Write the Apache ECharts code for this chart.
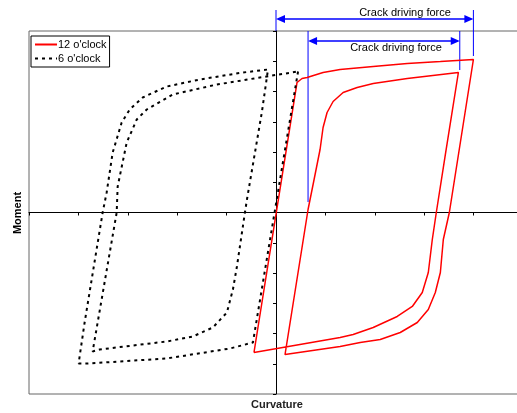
<!DOCTYPE html>
<html>
<head>
<meta charset="utf-8">
<script src="https://cdn.jsdelivr.net/npm/echarts@6/dist/echarts.min.js"></script>
<style>html,body{margin:0;padding:0;background:#fff}#c{width:517px;height:413px}</style>
</head>
<body>
<div id="c"></div>
<script>
// 12 o'clock loop (curvature, moment)
const curv12 = [-0.446,0.426,0.527,0.629,0.953,1.298,1.968,2.657,3.327,3.996,3.509,3.387,3.327,3.225,3.083,2.860,2.515,2.110,1.704,1.298,0.183,0.649,0.771,0.892,0.953,1.034,1.156,1.359,1.643,1.968,2.657,3.692,3.428,3.245,3.164,3.083,2.961,2.759,2.454,1.968,1.562,1.298,-0.446];
const mom12  = [-4.628,4.298,4.430,4.463,4.628,4.727,4.826,4.926,4.992,5.058,0,-0.893,-1.983,-2.645,-3.207,-3.636,-3.967,-4.198,-4.298,-4.430,-4.694,0.099,1.091,2.083,2.810,3.306,3.669,3.967,4.132,4.264,4.430,4.628,1.917,0,-0.893,-1.983,-2.645,-3.107,-3.438,-3.802,-4.033,-4.132,-4.628];
// 6 o'clock loop (curvature, moment)
const curv6 = [0.446,-0.467,-0.933,-2.211,-3.813,-3.996,-3.874,-3.509,-3.428,-3.306,-3.124,-2.961,-2.698,-2.211,-1.542,-0.669,-0.162,-0.284,-0.588,-0.629,-0.791,-0.872,-0.994,-1.278,-1.684,-2.211,-3.570,-3.712,-3.225,-3.205,-3.022,-2.819,-2.617,-2.089,-1.197,-0.325,0.446];
const mom6  = [4.661,-4.298,-4.496,-4.826,-4.992,-4.992,-3.636,0,0.661,1.983,2.975,3.405,3.802,4.165,4.397,4.628,4.727,3.339,0.430,0,-1.785,-2.545,-3.306,-3.802,-4.099,-4.264,-4.529,-4.595,0,0.860,2.314,3.074,3.405,3.901,4.231,4.463,4.661];
// crack driving force spans (curvature)
const crackOuter = [0, 3.996];
const crackInner = [0.649, 3.72];
const seriesNames = ["12 o'clock", "6 o'clock"];

const zip = (a, b) => a.map((v, i) => [v, b[i]]);
const FONT = 'Liberation Sans, Arial, sans-serif';
const chart = echarts.init(document.getElementById('c'));
chart.setOption({
  animation: false,
  grid: { left: 29, width: 494, top: 31, bottom: 19, outerBoundsMode: 'none', containLabel: false,
    show: true, borderColor: '#666', borderWidth: 1, backgroundColor: 'transparent' },
  xAxis: { type: 'value', min: -5, max: 5, interval: 1,
    axisLine: { onZero: true, lineStyle: { color: '#000', width: 1 } },
    axisTick: { show: true, length: 3, lineStyle: { color: '#000' } },
    axisLabel: { show: false }, splitLine: { show: false } },
  yAxis: { type: 'value', min: -6, max: 6, interval: 1,
    axisLine: { onZero: true, lineStyle: { color: '#000', width: 1 } },
    axisTick: { show: true, length: 3, lineStyle: { color: '#000' } },
    axisLabel: { show: false }, splitLine: { show: false } },
  legend: { orient: 'vertical', left: 31, top: 36, itemWidth: 22, itemHeight: 10, itemGap: 3,
    padding: [3, 3, 3, 3], borderColor: '#000', borderWidth: 1, backgroundColor: '#fff',
    itemStyle: { opacity: 0 },
    textStyle: { fontFamily: FONT, fontSize: 11, color: '#000', padding: [0, 0, 0, -4] },
    data: seriesNames },
  series: [
    { name: seriesNames[0], type: 'line', data: zip(curv12, mom12), symbol: 'none', showSymbol: false,
      lineStyle: { color: '#ff0000', width: 1.5 }, itemStyle: { color: '#ff0000' }, z: 3 },
    { name: seriesNames[1], type: 'line', data: zip(curv6, mom6), symbol: 'none', showSymbol: false,
      lineStyle: { color: '#000', width: 2, type: [3, 4] }, itemStyle: { color: '#000' }, z: 4 }
  ]
});

function px(x) { return chart.convertToPixel({ gridIndex: 0 }, [x, 0])[0]; }
const BLUE = '#0000ff';
function arrow(x1, x2, y) {
  return [
    { type: 'line', shape: { x1: x1 + 2, y1: y, x2: x2 - 2, y2: y }, style: { stroke: BLUE, lineWidth: 1.5 } },
    { type: 'polygon', shape: { points: [[x1, y], [x1 + 9, y - 4], [x1 + 9, y + 4]] }, style: { fill: BLUE } },
    { type: 'polygon', shape: { points: [[x2, y], [x2 - 9, y - 4], [x2 - 9, y + 4]] }, style: { fill: BLUE } }
  ];
}
const oL = px(crackOuter[0]), oR = px(crackOuter[1]);
const iL = px(crackInner[0]), iR = px(crackInner[1]);
const g = [];
g.push({ type: 'line', shape: { x1: oL, y1: 10, x2: oL, y2: 31 }, style: { stroke: BLUE, lineWidth: 1 } });
g.push({ type: 'line', shape: { x1: oR, y1: 10, x2: oR, y2: 56 }, style: { stroke: BLUE, lineWidth: 1 } });
g.push(...arrow(oL, oR, 19));
g.push({ type: 'text', style: { text: 'Crack driving force', x: 405, y: 13, textAlign: 'center', textVerticalAlign: 'middle', font: '11px ' + FONT, fill: '#000' } });
g.push({ type: 'line', shape: { x1: iL, y1: 31, x2: iL, y2: 202 }, style: { stroke: BLUE, lineWidth: 1 } });
g.push({ type: 'line', shape: { x1: iR, y1: 31, x2: iR, y2: 70 }, style: { stroke: BLUE, lineWidth: 1 } });
g.push(...arrow(iL, iR, 41));
g.push({ type: 'text', style: { text: 'Crack driving force', x: 396, y: 48, textAlign: 'center', textVerticalAlign: 'middle', font: '11px ' + FONT, fill: '#000' } });
g.push({ type: 'text', x: 18, y: 213, rotation: Math.PI / 2, style: { text: 'Moment', x: 0, y: 0, textAlign: 'center', textVerticalAlign: 'middle', font: 'bold 11px ' + FONT, fill: '#000' } });
g.push({ type: 'text', style: { text: 'Curvature', x: 277, y: 405, textAlign: 'center', textVerticalAlign: 'middle', font: 'bold 11px ' + FONT, fill: '#222' } });
chart.setOption({ graphic: g });
</script>
</body>
</html>
